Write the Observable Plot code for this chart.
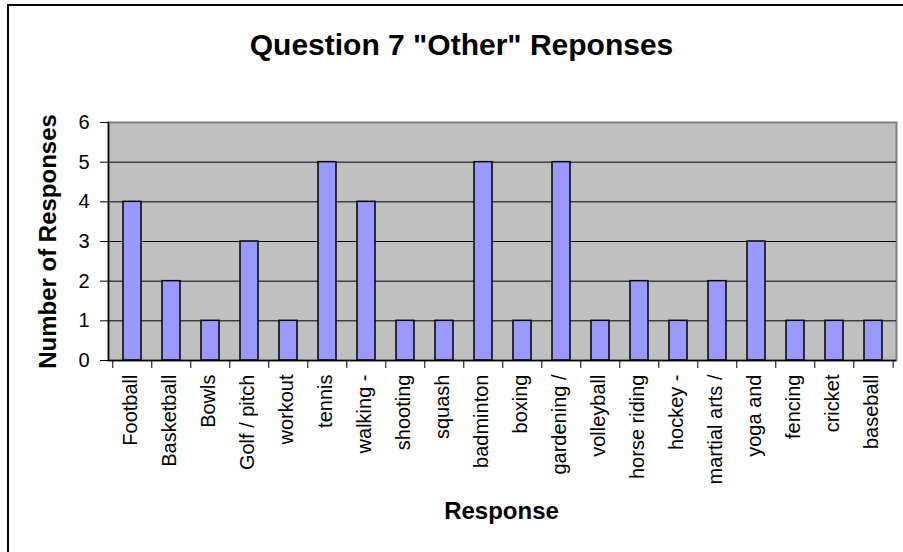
<!DOCTYPE html>
<html>
<head>
<meta charset="utf-8">
<script src="https://cdn.jsdelivr.net/npm/d3@7"></script>
<script src="https://cdn.jsdelivr.net/npm/@observablehq/plot@0.6"></script>
<style>
  html, body { margin: 0; padding: 0; background: #fff; }
  #wrap { position: relative; width: 903px; height: 552px; overflow: hidden; }
  #border { position: absolute; left: 7px; top: 4px; width: 940px; height: 600px;
            border-top: 2px solid #000; border-left: 2px solid #000; pointer-events: none; }
  svg { font-family: Arial, "Liberation Sans", sans-serif; }
</style>
</head>
<body>
<div id="wrap"><div id="border"></div></div>
<script>
const categories = ["Football", "Basketball", "Bowls", "Golf / pitch", "workout", "tennis", "walking -",
  "shooting", "squash", "badminton", "boxing", "gardening /", "volleyball", "horse riding",
  "hockey -", "martial arts /", "yoga and", "fencing", "cricket", "baseball"];
const values = [4, 2, 1, 3, 1, 5, 4, 1, 1, 5, 1, 5, 1, 2, 1, 2, 3, 1, 1, 1];
const yTicks = [0, 1, 2, 3, 4, 5, 6];
const gridTicks = [1, 2, 3, 4, 5];
const title = 'Question 7 "Other" Reponses';
const xLabel = "Response";
const yLabel = "Number of Responses";

const data = categories.map((c, i) => ({category: c, value: values[i]}));

const W = 903, H = 552, ML = 108, MR = 7, MT = 122, MB = 192;
const step = (W - ML - MR) / categories.length;

const chart = Plot.plot({
  width: W,
  height: H,
  marginLeft: ML,
  marginRight: MR,
  marginTop: MT,
  marginBottom: MB,
  style: {background: "transparent", fontFamily: 'Arial, "Liberation Sans", sans-serif', overflow: "visible"},
  x: {domain: categories, paddingInner: 0.55, paddingOuter: 0.275, axis: null},
  y: {domain: [0, 6], axis: null},
  marks: [
    Plot.frame({fill: "#c0c0c0", stroke: "#808080", strokeWidth: 2}),
    Plot.gridY(gridTicks, {stroke: "#000", strokeOpacity: 1, strokeWidth: 1}),
    Plot.barY(data, {x: "category", y: "value", fill: "#9999ff", stroke: "#000", strokeWidth: 1.5}),
    Plot.ruleY([0], {stroke: "#000", strokeWidth: 1.5}),
    Plot.frame({anchor: "left", stroke: "#000", strokeWidth: 1.5}),
    Plot.axisY(yTicks, {tickSize: 8, tickPadding: 11, fontSize: 20, label: null, stroke: "#000", fill: "#000"}),
    Plot.axisX({tickSize: 8, text: null, label: null, dx: -step / 2, stroke: "#000"}),
    Plot.axisX([categories[categories.length - 1]], {tickSize: 8, text: null, label: null, dx: step / 2, stroke: "#000"}),
    Plot.axisX({tickSize: 0, tickPadding: 14, tickRotate: -90, fontSize: 20, label: null, fill: "#000", dx: -2}),
    Plot.text([title], {frameAnchor: "top", dx: -41, dy: -68, lineAnchor: "bottom", fontSize: 30, fontWeight: "bold", fill: "#000"}),
    Plot.text([xLabel], {frameAnchor: "bottom", dx: -1, dy: 158, lineAnchor: "bottom", fontSize: 24, fontWeight: "bold", fill: "#000"}),
    Plot.text([yLabel], {frameAnchor: "left", dx: -60, rotate: -90, textAnchor: "middle", lineAnchor: "middle", fontSize: 24, fontWeight: "bold", fill: "#000"})
  ]
});
document.getElementById("wrap").prepend(chart);
</script>
</body>
</html>
